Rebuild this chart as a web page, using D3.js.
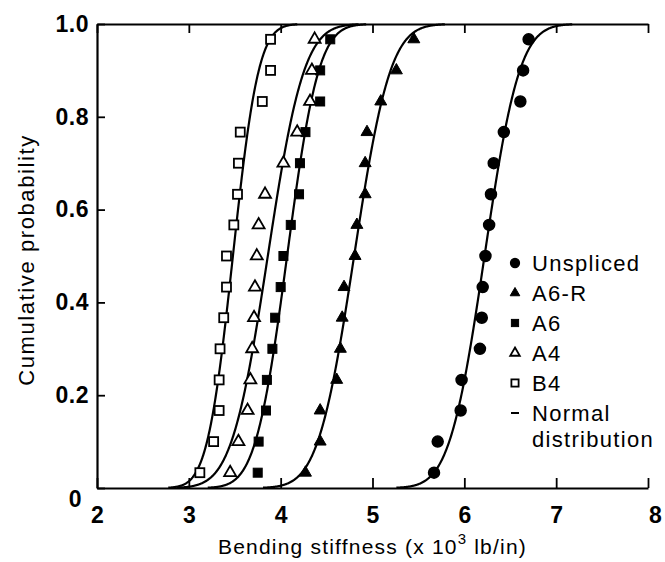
<!DOCTYPE html>
<html>
<head>
<meta charset="utf-8">
<script src="https://cdn.jsdelivr.net/npm/d3@7"></script>
<style>
  html, body { margin: 0; padding: 0; background: #fff; }
  svg { display: block; font-family: "Liberation Sans", Arial, Helvetica, sans-serif; }
</style>
</head>
<body>
<svg id="chart" width="665" height="562"></svg>
<script>
// ---- Data ----
const probs = [0.033, 0.1, 0.167, 0.233, 0.3, 0.367, 0.433, 0.5, 0.567, 0.633, 0.7, 0.767, 0.833, 0.9, 0.967];
const seriesNames = ["Unspliced", "A6-R", "A6", "A4", "B4"];
const unspliced = [5.67, 5.71, 5.96, 5.97, 6.17, 6.19, 6.20, 6.23, 6.27, 6.29, 6.32, 6.43, 6.61, 6.64, 6.70];
const a6r       = [4.27, 4.43, 4.43, 4.61, 4.65, 4.67, 4.69, 4.81, 4.83, 4.92, 4.92, 4.94, 5.09, 5.26, 5.45];
const a6        = [3.75, 3.76, 3.84, 3.85, 3.91, 3.94, 4.00, 4.03, 4.11, 4.20, 4.21, 4.27, 4.43, 4.43, 4.54];
const a4        = [3.45, 3.54, 3.64, 3.67, 3.69, 3.71, 3.72, 3.74, 3.76, 3.83, 4.03, 4.18, 4.32, 4.34, 4.37];
const b4        = [3.12, 3.27, 3.33, 3.33, 3.34, 3.38, 3.41, 3.41, 3.49, 3.53, 3.54, 3.56, 3.80, 3.89, 3.89];
// normal distribution fits (mean, standard deviation) per series
const fitMeans = [6.22, 4.80, 4.07, 3.86, 3.48];
const fitSDs   = [0.30, 0.31, 0.27, 0.31, 0.22];
const xTicks = [2, 3, 4, 5, 6, 7, 8];
const yTicks = [0, 0.2, 0.4, 0.6, 0.8, 1.0];
const yTickLabels = ["0", "0.2", "0.4", "0.6", "0.8", "1.0"];
const legendLabels = ["Unspliced", "A6-R", "A6", "A4", "B4", "Normal", "distribution"];

// ---- Layout ----
const L = 97, R = 648, T = 24, B = 488;
const svg = d3.select("#chart");
const x = d3.scaleLinear().domain([2, 8]).range([L, R]);
const y = d3.scaleLinear().domain([0, 1]).range([B, T]);

const seriesValues = [unspliced, a6r, a6, a4, b4];
const markerKind = ["circle", "triangle", "square", "triangle", "square"];
const markerFilled = [true, true, true, false, false];

// normal CDF
function erf(z) {
  const s = z < 0 ? -1 : 1; z = Math.abs(z);
  const t = 1 / (1 + 0.3275911 * z);
  const yv = 1 - (((((1.061405429 * t - 1.453152027) * t) + 1.421413741) * t - 0.284496736) * t + 0.254829592) * t * Math.exp(-z * z);
  return s * yv;
}
function ncdf(v, m, s) { return 0.5 * (1 + erf((v - m) / (s * Math.SQRT2))); }

// clip
svg.append("defs").append("clipPath").attr("id", "clip")
  .append("rect").attr("x", L).attr("y", T - 1).attr("width", R - L).attr("height", B - T + 2);

// ---- Curves ----
const line = d3.line().x(d => x(d[0])).y(d => y(d[1]));
const gCurves = svg.append("g").attr("clip-path", "url(#clip)");
fitMeans.forEach((m, i) => {
  const s = fitSDs[i];
  const pts = d3.range(m - 3.2 * s, m + 3.2 * s, 0.005).map(v => [v, ncdf(v, m, s)]);
  gCurves.append("path").attr("d", line(pts))
    .attr("fill", "none").attr("stroke", "#000").attr("stroke-width", 2.2);
});

// ---- Axes ----
const axisStyle = g => {
  g.selectAll("path.domain").attr("stroke", "#000").attr("stroke-width", 2.2);
  g.selectAll(".tick line").attr("stroke", "#000").attr("stroke-width", 1.8);
};
const gx = svg.append("g").attr("transform", `translate(0,${B})`)
  .call(d3.axisBottom(x).tickValues(xTicks).tickSize(-10).tickSizeOuter(0).tickPadding(19).tickFormat(d3.format("d")))
  .call(axisStyle);
gx.selectAll("text").attr("font-size", 23).attr("font-weight", "bold").attr("fill", "#000")
  .attr("font-family", "Liberation Sans, Arial, sans-serif");
gx.selectAll(".tick").filter(d => d === 8).select("text").attr("x", 7);

svg.append("g").attr("transform", `translate(0,${T})`)
  .call(d3.axisTop(x).tickValues(xTicks).tickSize(-9).tickSizeOuter(0).tickFormat(""))
  .call(axisStyle);

const gy = svg.append("g").attr("transform", `translate(${L},0)`)
  .call(d3.axisLeft(y).tickValues(yTicks).tickSize(-8).tickSizeOuter(0).tickPadding(8)
    .tickFormat((d, i) => yTickLabels[i]))
  .call(axisStyle);
gy.selectAll("text").attr("font-size", 23).attr("font-weight", "bold").attr("fill", "#000")
  .attr("letter-spacing", 0.5)
  .attr("font-family", "Liberation Sans, Arial, sans-serif");
gy.selectAll(".tick").filter(d => d === 0).select("text").attr("x", -15).attr("dy", "0.8em");

// ---- Markers ----
function drawMarker(g, kind, filled, cx, cy, size) {
  const fill = filled ? "#000" : "#fff";
  if (kind === "circle") {
    g.append("circle").attr("cx", cx).attr("cy", cy).attr("r", size * 0.55)
      .attr("fill", fill).attr("stroke", "#000").attr("stroke-width", 1.5);
  } else if (kind === "square") {
    const h = size * 0.45;
    g.append("rect").attr("x", cx - h).attr("y", cy - h).attr("width", 2 * h).attr("height", 2 * h)
      .attr("fill", fill).attr("stroke", "#000").attr("stroke-width", filled ? 1 : 1.8);
  } else {
    g.append("path").attr("transform", `translate(${cx},${cy})`)
      .attr("d", d3.symbol().type(d3.symbolTriangle).size(size * size * 0.62)())
      .attr("fill", fill).attr("stroke", "#000").attr("stroke-width", filled ? 1 : 1.8);
  }
}
const gPts = svg.append("g");
seriesValues.forEach((vals, i) => {
  vals.forEach((v, j) => drawMarker(gPts, markerKind[i], markerFilled[i], x(v), y(probs[j]), 10));
});

// ---- Titles ----
const xt = svg.append("text").attr("x", (L + R) / 2).attr("y", 554).attr("text-anchor", "middle")
  .attr("font-size", 21).attr("letter-spacing", 1.2).attr("fill", "#000");
xt.append("tspan").text("Bending stiffness (x 10");
xt.append("tspan").attr("font-size", 15).attr("dy", -10).text("3");
xt.append("tspan").attr("dy", 10).text(" lb/in)");

svg.append("text").attr("transform", `translate(34,${(T + B) / 2 + 4}) rotate(-90)`)
  .attr("text-anchor", "middle").attr("font-size", 22).attr("letter-spacing", 1.6).attr("fill", "#000")
  .text("Cumulative probability");

// ---- Legend ----
const legX = 515, textX = 532;
const rowY = [263, 293, 323, 353, 383, 413, 439];
const gLeg = svg.append("g");
seriesNames.forEach((n, i) => {
  drawMarker(gLeg, markerKind[i], markerFilled[i], legX, rowY[i], 8);
});
gLeg.append("line").attr("x1", legX - 4).attr("x2", legX + 4).attr("y1", rowY[5]).attr("y2", rowY[5])
  .attr("stroke", "#000").attr("stroke-width", 2);
legendLabels.forEach((t, i) => {
  gLeg.append("text").attr("x", textX).attr("y", rowY[i]).attr("dy", "0.36em")
    .attr("font-size", 22).attr("letter-spacing", 1.3).attr("fill", "#000").text(t);
});
</script>
</body>
</html>
